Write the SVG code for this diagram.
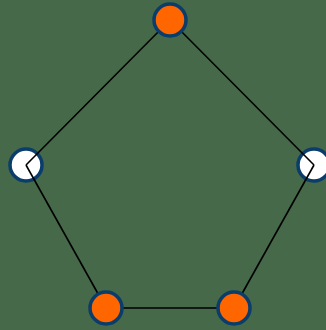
<svg xmlns="http://www.w3.org/2000/svg" width="326" height="330" viewBox="0 0 326 330">
<style>
.node circle{stroke:#0a3d6b;stroke-width:3.5}
.orange circle{fill:#ff6600}
.white circle{fill:#ffffff}
#edges line{stroke:#000;stroke-width:1.6}
</style>
<rect width="326" height="330" fill="#466a49"/>
<g id="n_left" class="node white"><circle cx="26" cy="165" r="16"/></g>
<g id="n_right" class="node white"><circle cx="314" cy="165" r="16"/></g>
<g id="edges">
<line x1="170" y1="20" x2="26" y2="165"/>
<line x1="26" y1="165" x2="106" y2="308"/>
<line x1="106" y1="308" x2="234" y2="308"/>
<line x1="234" y1="308" x2="314" y2="165"/>
<line x1="314" y1="165" x2="170" y2="20"/>
</g>
<g id="n_top" class="node orange"><circle cx="170" cy="20" r="16"/></g>
<g id="n_bl" class="node orange"><circle cx="106" cy="308" r="16"/></g>
<g id="n_br" class="node orange"><circle cx="234" cy="308" r="16"/></g>
</svg>
